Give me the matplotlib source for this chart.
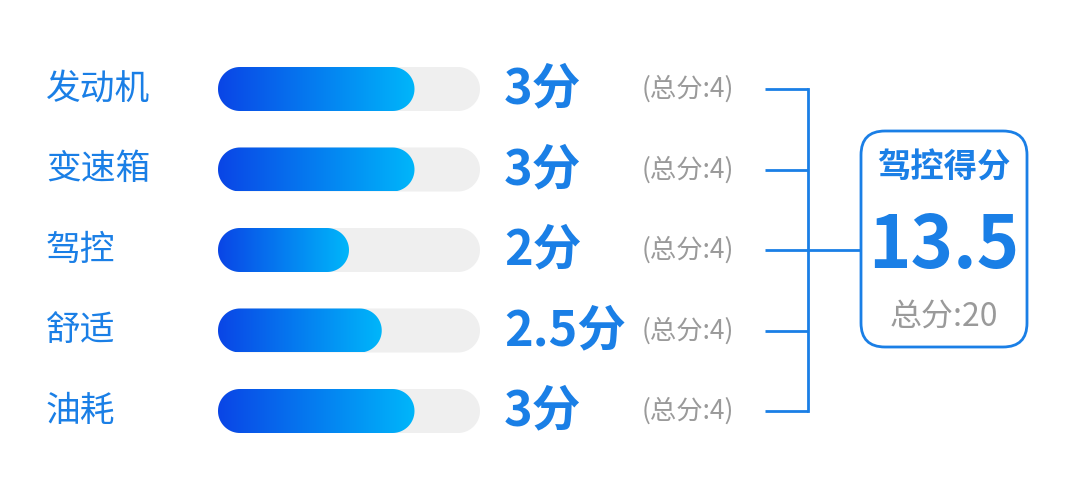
import numpy as np
import matplotlib
matplotlib.use("Agg")
import matplotlib.pyplot as plt
from matplotlib.patches import FancyBboxPatch, PathPatch
from matplotlib.path import Path
from matplotlib.colors import LinearSegmentedColormap

plt.rcParams['font.family'] = ['Noto Sans CJK SC', 'DejaVu Sans']

# ---- data ----
categories = ["发动机", "变速箱", "驾控", "舒适", "油耗"]
scores = [3, 3, 2, 2.5, 3]
max_scores = [4, 4, 4, 4, 4]
total_title = "驾控得分"
total_score = 13.5
total_max = 20

# ---- style ----
BLUE = "#1a7fe6"
GRAY = "#9a9a9a"
TRACK = "#efefef"
GRAD = LinearSegmentedColormap.from_list("g", ["#0a45e6", "#00b6fa"])

W, H = 1080, 488
fig = plt.figure(figsize=(W / 100, H / 100), dpi=100)
ax = fig.add_axes([0, 0, 1, 1])
ax.set_xlim(0, W)
ax.set_ylim(H, 0)
ax.axis("off")

row0, step = 89, 80.5
rows = [row0 + step * i for i in range(len(categories))]

# bar axes (value scale)
bx0, bw = 218, 262
top = row0 - step / 2
n = len(categories)
ax_bar = fig.add_axes([bx0 / W, (H - (top + step * n)) / H,
                       bw / W, step * n / H])
ax_bar.axis("off")
xmax = max(max_scores)
ax_bar.set_xlim(0, xmax)
ax_bar.set_ylim(n - 0.5, -0.5)

bar_h_px = 44
px_per_x = bw / xmax
px_per_y = step
bh = bar_h_px / px_per_y
rx = (bar_h_px / 2) / px_per_x
ry = bh / 2


def stadium(x0, x1, yc):
    t1 = np.linspace(np.pi / 2, 3 * np.pi / 2, 40)
    t2 = np.linspace(-np.pi / 2, np.pi / 2, 40)
    left = np.column_stack([x0 + rx + rx * np.cos(t1), yc + ry * np.sin(t1)])
    right = np.column_stack([x1 - rx + rx * np.cos(t2), yc + ry * np.sin(t2)])
    verts = np.vstack([left, right, left[:1]])
    codes = [Path.MOVETO] + [Path.LINETO] * (len(verts) - 2) + [Path.CLOSEPOLY]
    return Path(verts, codes)


grad = np.linspace(0, 1, 256).reshape(1, -1)
for i, (v, m) in enumerate(zip(scores, max_scores)):
    track = PathPatch(stadium(0, m, i), fc=TRACK, ec="none", zorder=1)
    ax_bar.add_patch(track)
    fill = PathPatch(stadium(0, v, i), fc="none", ec="none", zorder=2)
    ax_bar.add_patch(fill)
    im = ax_bar.imshow(grad, cmap=GRAD, extent=[0, v, i + bh / 2, i - bh / 2],
                       aspect="auto", interpolation="bicubic", zorder=3)
    im.set_clip_path(fill)
ax_bar.set_xlim(0, xmax)
ax_bar.set_ylim(n - 0.5, -0.5)

# labels
for y, c, v, m in zip(rows, categories, scores, max_scores):
    ax.text(46, y, c, fontsize=25, color=BLUE, va="center", ha="left")
    ax.text(504, y, f"{v:g}分", fontsize=35, color=BLUE, va="center",
            ha="left", fontweight="bold")
    ax.text(642, y, f"(总分:{m:g})", fontsize=19, color=GRAY, va="center",
            ha="left")

# bracket
lw = 2
for y in rows:
    ax.plot([765, 808], [y, y], color=BLUE, lw=lw, solid_capstyle="butt")
ax.plot([808, 808], [rows[0], rows[-1]], color=BLUE, lw=lw,
        solid_capstyle="projecting")
mid = (rows[0] + rows[-1]) / 2
ax.plot([808, 860], [mid, mid], color=BLUE, lw=lw)

# summary box
box = FancyBboxPatch((861, 131), 166, 216,
                     boxstyle="round,pad=0,rounding_size=24",
                     fc="white", ec=BLUE, lw=2)
ax.add_patch(box)
cx = 944
ax.text(cx, 168, total_title, fontsize=24, color=BLUE, ha="center",
        va="center", fontweight="bold")
ax.text(cx, 247, f"{total_score:g}", fontsize=52, color=BLUE, ha="center",
        va="center", fontweight="bold")
ax.text(cx, 318, f"总分:{total_max:g}", fontsize=23, color=GRAY, ha="center",
        va="center")

fig.savefig("out.png", dpi=100, facecolor="white")
